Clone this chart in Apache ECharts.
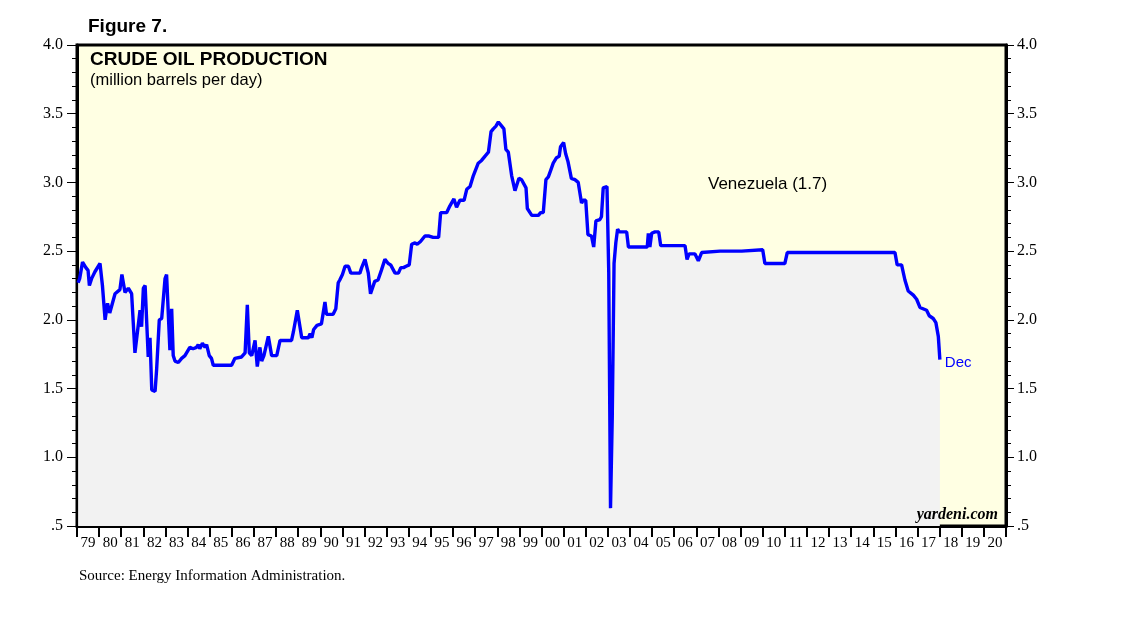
<!DOCTYPE html>
<html>
<head>
<meta charset="utf-8">
<script src="https://cdn.jsdelivr.net/npm/echarts@6/dist/echarts.min.js"></script>
<style>
html,body{margin:0;padding:0;background:#fff;}
#c{width:1138px;height:621px;}
</style>
</head>
<body>
<div id="c"></div>
<script>
// Decimal-year positions of the plotted points (monthly, end-of-month)
const dates = [
1979.05,1979.12,1979.25,1979.40,1979.50,1979.56,1979.66,1979.81,1980.04,1980.15,
1980.27,1980.38,1980.48,1980.72,1980.94,1981.03,1981.17,1981.32,1981.47,1981.62,
1981.85,1981.92,1982.00,1982.08,1982.22,1982.30,1982.38,1982.53,1982.60,1982.72,
1982.83,1982.98,1983.05,1983.20,1983.28,1983.35,1983.43,1983.58,1983.73,1983.88,
1984.10,1984.25,1984.40,1984.48,1984.55,1984.67,1984.79,1984.86,1984.98,1985.08,
1985.16,1985.39,1985.46,1985.54,1985.99,1986.14,1986.44,1986.60,1986.70,1986.79,
1986.90,1987.05,1987.15,1987.27,1987.35,1987.45,1987.65,1987.80,1988.03,1988.18,
1988.70,1988.78,1988.96,1989.05,1989.16,1989.46,1989.54,1989.62,1989.70,1989.85,
1990.05,1990.11,1990.21,1990.28,1990.58,1990.70,1990.81,1990.88,1991.00,1991.12,
1991.27,1991.38,1991.79,1991.87,1992.02,1992.17,1992.27,1992.36,1992.46,1992.61,
1992.76,1992.92,1993.07,1993.18,1993.38,1993.53,1993.64,1993.76,1993.88,1994.02,
1994.13,1994.28,1994.38,1994.53,1994.73,1994.92,1995.10,1995.35,1995.44,1995.71,
1995.86,1995.95,1996.04,1996.16,1996.31,1996.50,1996.62,1996.77,1996.92,1997.14,
1997.29,1997.44,1997.60,1997.72,1997.82,1997.94,1998.05,1998.20,1998.30,1998.39,
1998.50,1998.65,1998.80,1998.98,1999.10,1999.30,1999.36,1999.56,1999.86,1999.96,
2000.08,2000.20,2000.31,2000.42,2000.53,2000.68,2000.80,2000.86,2001.00,2001.09,
2001.20,2001.35,2001.51,2001.66,2001.81,2001.88,2002.00,2002.10,2002.26,2002.36,
2002.46,2002.64,2002.71,2002.79,2002.87,2002.96,2003.04,2003.12,2003.20,2003.28,
2003.36,2003.44,2003.52,2003.85,2003.93,2004.78,2004.83,2004.90,2004.98,2005.13,
2005.30,2005.39,2006.49,2006.58,2006.67,2006.94,2007.09,2007.24,2008.07,2008.15,
2009.05,2009.12,2010.00,2010.10,2011.00,2011.11,2015.98,2016.08,2016.28,2016.43,
2016.58,2016.81,2016.96,2017.11,2017.41,2017.53,2017.71,2017.83,2017.94,2018.01
];
// Crude oil production, million barrels per day
const production = [
2.27,2.30,2.42,2.38,2.36,2.25,2.30,2.35,2.41,2.25,
2.00,2.12,2.05,2.19,2.22,2.33,2.20,2.23,2.19,1.76,
2.07,1.95,2.23,2.25,1.73,1.87,1.49,1.48,1.64,2.00,
2.01,2.30,2.33,1.78,2.08,1.74,1.70,1.69,1.72,1.74,
1.80,1.79,1.80,1.82,1.79,1.83,1.80,1.82,1.74,1.72,
1.67,1.67,1.68,1.67,1.67,1.72,1.73,1.76,2.11,1.76,
1.74,1.85,1.66,1.80,1.70,1.74,1.88,1.74,1.74,1.85,
1.85,1.91,2.07,2.06,1.87,1.87,1.90,1.87,1.93,1.96,
1.97,1.98,2.13,2.04,2.04,2.08,2.27,2.29,2.33,2.39,
2.39,2.34,2.34,2.38,2.44,2.34,2.19,2.18,2.28,2.29,
2.36,2.44,2.41,2.40,2.34,2.34,2.38,2.38,2.39,2.40,
2.55,2.56,2.55,2.57,2.61,2.61,2.60,2.60,2.78,2.78,
2.83,2.83,2.88,2.82,2.87,2.87,2.95,2.97,3.05,3.14,
3.16,3.19,3.22,3.37,3.39,3.41,3.44,3.41,3.39,3.24,
3.22,3.05,2.94,3.03,3.02,2.96,2.81,2.76,2.76,2.78,
2.78,3.02,3.04,3.09,3.14,3.18,3.19,3.26,3.29,3.21,
3.15,3.03,3.02,3.00,2.85,2.87,2.87,2.62,2.61,2.53,
2.72,2.73,2.75,2.96,2.97,2.97,2.35,0.63,1.30,2.41,
2.56,2.66,2.64,2.64,2.53,2.53,2.63,2.53,2.63,2.64,
2.64,2.54,2.54,2.44,2.48,2.48,2.43,2.49,2.50,2.50,
2.50,2.51,2.51,2.41,2.41,2.49,2.49,2.40,2.40,2.29,
2.21,2.18,2.15,2.09,2.07,2.03,2.01,1.98,1.88,1.71
];
const yearLabels = ['79','80','81','82','83','84','85','86','87','88','89','90','91','92','93','94','95','96','97','98','99','00','01','02','03','04','05','06','07','08','09','10','11','12','13','14','15','16','17','18','19','20'];
const yTicks = [0.5,1.0,1.5,2.0,2.5,3.0,3.5,4.0];

const seriesData = dates.map((d, i) => [d, production[i]]);
const serif = '"Liberation Serif", "DejaVu Serif", serif';
const sans = '"Liberation Sans", Arial, sans-serif';
const fmtY = v => { const s = v.toFixed(1); return s.startsWith('0') ? s.slice(1) : s; };

const yBase = (pos, tickLen) => ({
  type: 'value', position: pos, min: yTicks[0], max: yTicks[yTicks.length - 1], interval: 0.5,
  axisLine: { show: true, lineStyle: { color: '#000', width: 3 } },
  axisTick: { show: true, inside: false, length: tickLen, lineStyle: { color: '#000', width: 1 } },
  minorTick: { show: true, splitNumber: 5, length: 5, lineStyle: { color: '#000', width: 1 } },
  splitLine: { show: false },
  axisLabel: { color: '#000', fontFamily: serif, fontSize: 16, margin: pos === 'left' ? 14 : 11, formatter: fmtY }
});

const chart = echarts.init(document.getElementById('c'), null, { renderer: 'canvas' });
chart.setOption({
  animation: false,
  backgroundColor: '#ffffff',
  grid: { left: 77, right: 132, top: 45, bottom: 95, show: true, backgroundColor: '#FFFFE3', borderColor: '#000', borderWidth: 3, containLabel: false },
  xAxis: [
    { type: 'value', min: 1979, max: 2021, show: false },
    { type: 'category', data: yearLabels, boundaryGap: true, position: 'bottom',
      axisLine: { show: true, lineStyle: { color: '#000', width: 3 } },
      axisTick: { show: true, inside: false, length: 11, interval: 0, alignWithLabel: false, lineStyle: { color: '#000', width: 2 } },
      axisLabel: { interval: 0, color: '#000', fontFamily: serif, fontSize: 15, margin: 10 },
      splitLine: { show: false } }
  ],
  yAxis: [ yBase('left', 10), yBase('right', 8) ],
  series: [{
    type: 'line', xAxisIndex: 0, yAxisIndex: 0, data: seriesData,
    showSymbol: false, symbol: 'none',
    lineStyle: { color: '#0000FF', width: 3.4 },
    areaStyle: { color: '#F2F2F2', opacity: 1, origin: 'start' },
    endLabel: { show: true, formatter: 'Dec', color: '#0000FF', fontFamily: sans, fontSize: 15, distance: 5, offset: [0, 3] },
    z: 2
  }],
  graphic: [
    { type: 'text', z: 100, left: 88, top: 17, style: { text: 'Figure 7.', font: 'bold 19px ' + sans, fill: '#000' } },
    { type: 'text', z: 100, left: 90, top: 50, style: { text: 'CRUDE OIL PRODUCTION', font: 'bold 19px ' + sans, fill: '#000' } },
    { type: 'text', z: 100, left: 90, top: 72, style: { text: '(million barrels per day)', font: '16.5px ' + sans, fill: '#000' } },
    { type: 'text', z: 100, left: 708, top: 176, style: { text: 'Venezuela (1.7)', font: '17px ' + sans, fill: '#000' } },
    { type: 'text', z: 100, right: 140, top: 507, style: { text: 'yardeni.com', font: 'italic bold 16px ' + serif, fill: '#000' } },
    { type: 'text', z: 100, left: 79, top: 569, style: { text: 'Source: Energy Information Administration.', font: '15px ' + serif, fill: '#000' } }
  ]
});
</script>
</body>
</html>
